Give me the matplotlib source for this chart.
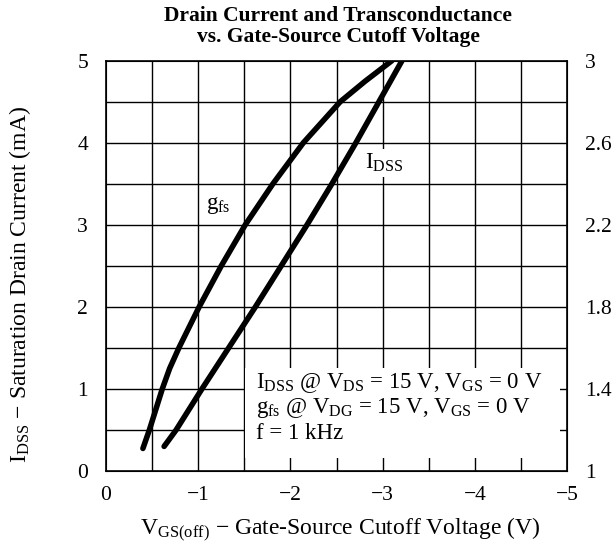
import matplotlib.pyplot as plt
from matplotlib.patches import Rectangle

plt.rcParams['font.family'] = ['Liberation Serif', 'DejaVu Serif']
plt.rcParams['mathtext.fontset'] = 'custom'
plt.rcParams['mathtext.rm'] = 'Liberation Serif'
plt.rcParams['mathtext.it'] = 'Liberation Serif:italic'

# IDSS (mA, left axis) vs VGS(off)
idss_v = [-0.63, -0.76, -1.04, -1.33, -1.62, -1.90, -2.18, -2.45, -2.71, -2.96, -3.21]
idss_ma = [0.30, 0.5, 1.0, 1.5, 2.0, 2.5, 3.0, 3.5, 4.0, 4.5, 5.0]

# gfs (right axis, 1..3) vs VGS(off)
gfs_v = [-0.40, -0.47, -0.54, -0.61, -0.69, -0.79, -0.90, -1.01, -1.25, -1.51,
         -1.81, -2.14, -2.54, -2.81, -3.10]
gfs_val = [1.11, 1.2, 1.3, 1.4, 1.5, 1.6, 1.7, 1.8, 2.0, 2.2,
           2.4, 2.6, 2.8, 2.9, 3.0]

left_ticks = [0, 1, 2, 3, 4, 5]
right_ticks = [1, 1.4, 1.8, 2.2, 2.6, 3]
right_labels = ['1', '1.4', '1.8', '2.2', '2.6', '3']
x_ticks = [0, -1, -2, -3, -4, -5]
x_labels = ['0', '\u22121', '\u22122', '\u22123', '\u22124', '\u22125']

fig = plt.figure(figsize=(6.15, 5.52), dpi=100)
ax = fig.add_axes([0.1724, 0.1467, 0.7496, 0.7433])
ax.set_xlim(0, -5)
ax.set_ylim(0, 5)

# grid every 0.5
for gx in [-0.5 * i for i in range(1, 10)]:
    ax.axvline(gx, color='black', lw=1.0, zorder=1)
for gy in [0.5 * i for i in range(1, 10)]:
    ax.axhline(gy, color='black', lw=1.0, zorder=1)

ax.set_xticks(x_ticks)
ax.set_xticklabels(x_labels)
ax.set_yticks(left_ticks)
ax.tick_params(length=0, labelsize=15.5)
ax.tick_params(axis='x', pad=11)
ax.tick_params(axis='y', pad=13)
for s in ax.spines.values():
    s.set_linewidth(1.2)
    s.set_zorder(5)

ax2 = ax.twinx()
ax2.set_ylim(1, 3)
ax2.set_yticks(right_ticks)
ax2.set_yticklabels(right_labels)
ax2.tick_params(length=0, labelsize=15.5, pad=13)

# white box for conditions text
ax.add_patch(Rectangle((-1.51, 0.16), -3.41, 1.10, facecolor='white',
                       edgecolor='none', zorder=2))
ax.text(-1.63, 1.07, r'I$_{\rm DSS}$ @ V$_{\rm DS}$ = 15 V, V$_{\rm GS}$ = 0 V',
        fontsize=16.5, va='center', ha='left', zorder=3)
ax.text(-1.63, 0.77, r'g$_{\rm fs}$ @ V$_{\rm DG}$ = 15 V, V$_{\rm GS}$ = 0 V',
        fontsize=16.5, va='center', ha='left', zorder=3)
ax.text(-1.63, 0.46, 'f = 1 kHz', fontsize=16.5, va='center', ha='left', zorder=3)

ax.plot(idss_v, idss_ma, color='black', lw=4, solid_capstyle='round',
        solid_joinstyle='round', zorder=4)
ax2.plot(gfs_v, gfs_val, color='black', lw=4, solid_capstyle='round',
         solid_joinstyle='round', zorder=4)

ax.text(-1.22, 3.23, r'g$_{\rm fs}$', fontsize=16.5, ha='center', va='center', zorder=3,
        bbox=dict(facecolor='white', edgecolor='none', pad=2))
ax.text(-3.02, 3.75, r'I$_{\rm DSS}$', fontsize=16.5, ha='center', va='center', zorder=3,
        bbox=dict(facecolor='white', edgecolor='none', pad=2))

fig.text(0.550, 0.971, 'Drain Current and Transconductance', fontsize=15.5,
         fontweight='bold', ha='center', va='center')
fig.text(0.550, 0.933, 'vs. Gate-Source Cutoff Voltage', fontsize=15.5,
         fontweight='bold', ha='center', va='center')

fig.text(0.0325, 0.484, 'I$_{\\rm DSS}$ \u2212 Saturation Drain Current (mA)',
         fontsize=17, rotation=90, ha='center', va='center')
fig.text(0.554, 0.040, 'V$_{\\rm GS(off)}$ \u2212 Gate-Source Cutoff Voltage (V)',
         fontsize=17, ha='center', va='center')

fig.savefig('out.png', dpi=100)
